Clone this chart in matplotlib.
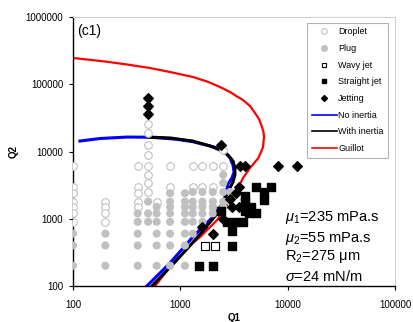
import matplotlib
matplotlib.use("Agg")
import matplotlib.pyplot as plt
from matplotlib.lines import Line2D
from matplotlib.ticker import FuncFormatter, NullLocator

plt.rcParams['font.family'] = ['Liberation Sans', 'DejaVu Sans']
plt.rcParams['mathtext.fontset'] = 'custom'
plt.rcParams['mathtext.rm'] = 'Liberation Sans'
plt.rcParams['mathtext.it'] = 'Liberation Sans:italic'

# ---------------- data ----------------
droplet_q1 = [100, 100, 100, 100, 100, 100, 100,
              200, 200, 200, 200,
              400, 400, 400, 400, 400,
              500, 500, 500, 500, 500, 500, 500, 500,
              600, 800, 800, 1300, 1300, 1600, 1600, 2000, 2000, 2500, 2500]
droplet_q2 = [6000, 3000, 2400, 1800, 1500, 1200, 900,
              1800, 1500, 1200, 900,
              6000, 3000, 2400, 1800, 1500,
              26000, 19000, 12500, 9000, 6000, 4500, 3400, 2500,
              1800, 6000, 3000, 6000, 3000, 6000, 3000, 6000, 3000, 10500, 6000]

plug_q1 = [100, 100, 100,
           200, 200, 200,
           400, 400, 400, 400, 400,
           500, 500, 500,
           600, 600, 600, 600, 600, 600,
           800, 800, 800, 800, 800, 800, 800, 800,
           1100, 1100, 1100, 1100, 1100, 1100, 1100, 1100,
           1300, 1300, 1300, 1300, 1300, 1300,
           1600, 1600, 1600, 1600, 1600, 1600,
           2000, 2000, 2000, 2000,
           2500, 2500, 2500, 2500, 2500,
           2900, 2900]
plug_q2 = [600, 400, 200,
           600, 400, 200,
           1200, 900, 600, 400, 200,
           1800, 1200, 900,
           1500, 1200, 900, 600, 400, 200,
           2400, 1800, 1500, 1200, 900, 600, 400, 200,
           2400, 1800, 1500, 1200, 900, 600, 400, 200,
           2500, 1800, 1500, 1200, 900, 600,
           2500, 1800, 1500, 1200, 900, 750,
           2500, 1800, 1500, 1200,
           4500, 3400, 2500, 1800, 1500,
           2500, 1800]

wavy_q1 = [1700, 2100]
wavy_q2 = [400, 400]

straight_q1 = [1500, 2000, 3000, 5000, 7000, 6000, 6000, 4000, 4000, 4000,
               4500, 5000, 4300, 2400, 2700, 3300, 3800, 3000]
straight_q2 = [200, 200, 400, 3000, 3000, 2500, 1900, 2200, 1800, 1300,
               1500, 1200, 1200, 1300, 900, 900, 900, 650]

jetting_q1 = [500, 500, 500, 2400, 3600, 4000, 8000, 12000, 3500, 2900,
              3000, 3500, 2500, 2000, 1600, 3300]
jetting_q2 = [62000, 48000, 36000, 12500, 6000, 6000, 6000, 6000, 3000, 2000,
              1500, 1500, 1000, 600, 750, 2400]

noinertia_q1 = [116, 178, 318, 520, 889, 1300, 1880, 2190, 2590, 2890, 3080, 3150,
                3010, 2770, 2650, 2480, 2000, 1300, 800, 487]
noinertia_q2 = [14300, 15600, 16400, 16300, 15300, 14000, 12100, 11300, 9830, 8000,
                6290, 4950, 4040, 3290, 2420, 1710, 1060, 535, 220, 100]

inertia_q1 = [499, 800, 1300, 1880, 2330, 2770, 3080, 3210, 3210, 3080, 2820, 2590,
              2140, 1420, 889, 543]
inertia_q2 = [16400, 15900, 14300, 12100, 10500, 8870, 7230, 5690, 4480, 3520, 2680,
              1970, 1140, 517, 227, 100]

guillot_q1 = [100, 199, 318, 520, 798, 1307, 1764, 2330, 2887, 3355, 3814, 4431, 4932,
              5372, 5728, 5915, 5980, 5915, 5860, 5610, 5300, 4431, 3814, 3430, 3080,
              2650, 2190, 1520, 1300, 800, 580]
guillot_q2 = [245600, 217900, 196700, 174400, 152100, 128200, 109900, 91000, 76700, 65740,
              58300, 47500, 37360, 30430, 23140, 19500, 16430, 13840, 11670, 9830, 8000,
              5690, 4040, 2860, 2250, 1495, 957, 535, 436, 192, 100]

x_ticks = [100, 1000, 10000, 100000]
y_ticks = [100, 1000, 10000, 100000, 1000000]

# ---------------- figure ----------------
fig = plt.figure(figsize=(4.14, 3.22), dpi=100)
ax = fig.add_axes([0.1763, 0.1118, 0.7790, 0.8354])
ax.set_xscale('log')
ax.set_yscale('log')
ax.set_xlim(100, 100000)
ax.set_ylim(100, 1000000)

gray = '#c0c0c0'
ax.plot(guillot_q1, guillot_q2, color='#ff0000', lw=1.6, zorder=2)
ax.plot(noinertia_q1, noinertia_q2, color='#0000ff', lw=2.2, zorder=2)
ax.plot(inertia_q1, inertia_q2, color='black', lw=2.2, zorder=2)

ax.scatter(droplet_q1, droplet_q2, s=30, facecolors='white', edgecolors=gray, linewidths=0.8, zorder=3)
ax.scatter(plug_q1, plug_q2, s=34, color=gray, edgecolors='none', zorder=3)
ax.scatter(wavy_q1, wavy_q2, s=26, marker='s', facecolors='white', edgecolors='black', linewidths=0.8, zorder=4)
ax.scatter(straight_q1, straight_q2, s=30, marker='s', color='black', zorder=4)
ax.scatter(jetting_q1, jetting_q2, s=24, marker='D', color='black', zorder=4)

ax.set_xticks(x_ticks)
ax.set_yticks(y_ticks)
ax.xaxis.set_minor_locator(NullLocator())
ax.yaxis.set_minor_locator(NullLocator())
fmt = FuncFormatter(lambda v, p: f"{v:.0f}")
ax.xaxis.set_major_formatter(fmt)
ax.yaxis.set_major_formatter(fmt)
ax.tick_params(axis='both', which='major', labelsize=7, length=3, width=0.8, direction='out')
ax.tick_params(axis='x', pad=7)
ax.tick_params(axis='y', pad=4)

for s in ['left', 'bottom']:
    ax.spines[s].set_color('black')
    ax.spines[s].set_linewidth(1.0)
for s in ['top', 'right']:
    ax.spines[s].set_color('#d0d0d0')
    ax.spines[s].set_linewidth(0.8)

ax.set_xlabel('Q1', fontsize=7, fontweight='bold', labelpad=2.5)
ax.set_ylabel('Q2', fontsize=7, fontweight='bold', labelpad=5)

ax.text(0.012, 0.975, '(c1)', transform=ax.transAxes, fontsize=10, va='top', ha='left')

ann = ['$\\mu_1$=235 mPa.s', '$\\mu_2$=55 mPa.s', 'R$_2$=275 μm', '$\\sigma$=24 mN/m']
ann_y = [0.253, 0.178, 0.108, 0.037]
for t, yy in zip(ann, ann_y):
    ax.text(0.657, yy, t, transform=ax.transAxes, fontsize=10.5, va='center', ha='left', zorder=5)

handles = [
    Line2D([], [], ls='none', marker='o', mfc='white', mec=gray, ms=4, mew=0.8),
    Line2D([], [], ls='none', marker='o', color=gray, ms=4),
    Line2D([], [], ls='none', marker='s', mfc='white', mec='black', ms=3.5, mew=0.8),
    Line2D([], [], ls='none', marker='s', color='black', ms=3.5),
    Line2D([], [], ls='none', marker='D', color='black', ms=3),
    Line2D([], [], color='#0000ff', lw=1.2),
    Line2D([], [], color='black', lw=1.2),
    Line2D([], [], color='#ff0000', lw=1.2),
]
labels = ['Droplet', 'Plug', 'Wavy jet', 'Straight jet', 'Jetting', 'No inertia', 'With inertia', 'Guillot']
leg = ax.legend(handles, labels, loc='upper right', bbox_to_anchor=(0.977, 0.978), borderaxespad=0,
                fontsize=6.5, frameon=True, fancybox=False, edgecolor='#a0a0a0', handlelength=2.8,
                handletextpad=0.15, labelspacing=0.85, borderpad=0.5)
leg.get_frame().set_linewidth(0.8)

fig.savefig('out.png', dpi=100)
